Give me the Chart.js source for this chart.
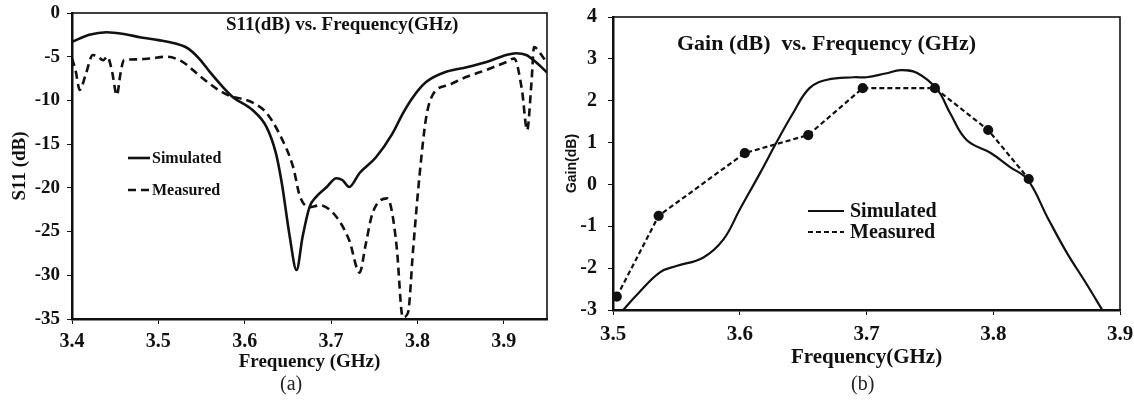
<!DOCTYPE html>
<html>
<head>
<meta charset="utf-8">
<script src="https://cdn.jsdelivr.net/npm/chart.js@4.4.1/dist/chart.umd.min.js"></script>
<style>
  body { margin: 0; background: #fff; }
  #wrap { position: relative; width: 1134px; height: 405px; overflow: hidden; }
  canvas { position: absolute; top: 0; }
  #c1 { left: 0; }
  #c2 { left: 560px; }
  .cap { position: absolute; top: 372px; font: 20px "Liberation Serif", serif; color: #222; }
</style>
</head>
<body>
<div id="wrap">
  <canvas id="c1" width="560" height="405"></canvas>
  <canvas id="c2" width="574" height="405"></canvas>
  <div class="cap" style="left:280px">(a)</div>
  <div class="cap" style="left:851px">(b)</div>
</div>
<script>
// (a) S11 vs frequency
const s11Ticks = [3.4, 3.5, 3.6, 3.7, 3.8, 3.9];
const s11YTicks = [0, -5, -10, -15, -20, -25, -30, -35];
const s11SimFreq = [3.400, 3.420, 3.440, 3.460, 3.480, 3.500, 3.520, 3.535, 3.548, 3.560, 3.575, 3.586, 3.609, 3.625, 3.636, 3.643, 3.652, 3.660, 3.667, 3.675, 3.683, 3.695, 3.706, 3.713, 3.721, 3.733, 3.752, 3.771, 3.783, 3.795, 3.810, 3.834, 3.857, 3.880, 3.903, 3.914, 3.926, 3.937, 3.950];
const s11Sim = [-3.3, -2.5, -2.2, -2.4, -2.8, -3.1, -3.5, -4.1, -5.3, -6.8, -8.5, -9.6, -11.1, -13.0, -16.0, -19.5, -25.5, -29.4, -25.6, -22.2, -21.0, -19.9, -18.9, -19.1, -19.9, -18.3, -16.5, -13.8, -11.5, -9.6, -7.9, -6.7, -6.2, -5.6, -4.8, -4.6, -4.8, -5.6, -6.8];
const s11MeasFreq = [3.400, 3.404, 3.409, 3.416, 3.424, 3.430, 3.436, 3.441, 3.446, 3.452, 3.456, 3.460, 3.475, 3.490, 3.510, 3.528, 3.548, 3.568, 3.583, 3.600, 3.612, 3.625, 3.640, 3.656, 3.664, 3.675, 3.687, 3.706, 3.721, 3.733, 3.740, 3.748, 3.765, 3.770, 3.776, 3.783, 3.789, 3.795, 3.802, 3.810, 3.818, 3.837, 3.857, 3.880, 3.903, 3.912, 3.921, 3.927, 3.932, 3.935, 3.945, 3.950];
const s11Meas = [-5.2, -6.5, -8.8, -7.0, -4.8, -5.0, -5.4, -5.0, -6.5, -9.4, -7.0, -5.4, -5.3, -5.2, -5.0, -5.6, -7.2, -8.7, -9.5, -9.9, -10.4, -11.4, -13.8, -17.6, -21.0, -22.2, -22.0, -23.3, -26.0, -29.7, -26.5, -22.9, -21.2, -22.5, -26.8, -34.8, -34.3, -27.0, -19.0, -12.0, -9.3, -8.2, -7.3, -6.5, -5.6, -5.2, -8.8, -13.4, -8.0, -3.9, -5.0, -5.7];

// (b) Gain vs frequency
const gainTicks = [3.5, 3.6, 3.7, 3.8, 3.9];
const gainYTicks = [4, 3, 2, 1, 0, -1, -2, -3];
const gainSimFreq = [3.505, 3.520, 3.537, 3.550, 3.571, 3.587, 3.600, 3.616, 3.630, 3.642, 3.655, 3.669, 3.690, 3.700, 3.715, 3.727, 3.740, 3.756, 3.766, 3.779, 3.798, 3.813, 3.827, 3.843, 3.858, 3.873, 3.888];
const gainSim = [-3.1, -2.6, -2.1, -1.95, -1.75, -1.32, -0.6, 0.27, 1.06, 1.7, 2.3, 2.5, 2.56, 2.56, 2.65, 2.73, 2.66, 2.26, 1.7, 1.06, 0.75, 0.42, 0.12, -0.8, -1.63, -2.35, -3.1];
const gainMeasFreq = [3.503, 3.536, 3.604, 3.654, 3.697, 3.754, 3.796, 3.828];
const gainMeas = [-2.68, -0.75, 0.75, 1.18, 2.3, 2.3, 1.3, 0.13];

const serif = "'Liberation Serif', 'Times New Roman', serif";
const ink = "#111";

const pairs = (xs, ys) => xs.map((x, i) => ({ x, y: ys[i] }));

// frame, title and legend drawn inside the plot area
const panelDecor = {
  id: "panelDecor",
  afterDraw(chart, args, opts) {
    const { ctx, chartArea: a } = chart;
    ctx.save();
    ctx.strokeStyle = ink;
    ctx.lineWidth = 1.6;
    ctx.strokeRect(a.left, a.top, a.right - a.left, a.bottom - a.top);

    ctx.fillStyle = ink;
    ctx.font = `bold ${opts.titleSize}px ${serif}`;
    ctx.textBaseline = "middle";
    ctx.textAlign = "left";
    ctx.fillText(opts.title, a.left + opts.titleX, a.top + opts.titleY);

    ctx.font = `bold ${opts.legendSize}px ${serif}`;
    chart.data.datasets.forEach((ds, i) => {
      const y = a.top + opts.legendY + i * opts.legendRow;
      const x = a.left + opts.legendX;
      ctx.beginPath();
      ctx.setLineDash(ds.borderDash || []);
      ctx.lineWidth = ds.borderWidth;
      ctx.moveTo(x, y);
      ctx.lineTo(x + opts.legendLine, y);
      ctx.stroke();
      ctx.setLineDash([]);
      ctx.fillText(ds.label, x + opts.legendLine + opts.legendGap, y + 1);
    });
    ctx.restore();
  }
};

function axis(ticks, min, max, title, cfg) {
  return {
    type: "linear",
    min, max,
    afterBuildTicks: (s) => { s.ticks = ticks.map((v) => ({ value: v })); },
    afterFit: (s) => {
      if (cfg.w) s.width = cfg.w;
      if (cfg.h) s.height = cfg.h;
      // keep the plot box exactly where the layout padding puts it
      s.paddingTop = s.paddingBottom = s.paddingLeft = s.paddingRight = 0;
    },
    border: { display: true, color: ink, width: 2.5 },
    grid: { drawOnChartArea: false, drawTicks: true, tickLength: 5, color: ink },
    ticks: {
      color: ink, padding: cfg.pad,
      font: { family: serif, size: cfg.tickSize, weight: "bold" },
      callback: (v) => cfg.fmt(v)
    },
    title: {
      display: true, text: title, color: ink,
      font: { family: cfg.titleFamily || serif, size: cfg.titleSize, weight: "bold" },
      padding: { top: 4, bottom: 4 }
    }
  };
}

new Chart(document.getElementById("c1"), {
  type: "line",
  data: {
    datasets: [
      { label: "Simulated", data: pairs(s11SimFreq, s11Sim), borderColor: ink, borderWidth: 2.6,
        pointRadius: 0, cubicInterpolationMode: "monotone" },
      { label: "Measured", data: pairs(s11MeasFreq, s11Meas), borderColor: ink, borderWidth: 2.6,
        borderDash: [8, 5], pointRadius: 0, cubicInterpolationMode: "monotone" }
    ]
  },
  options: {
    responsive: false,
    animation: false,
    devicePixelRatio: 1,
    layout: { padding: { left: 5, top: 13, right: 13, bottom: 28 } },
    scales: {
      x: axis(s11Ticks, 3.4, 3.95, "Frequency (GHz)", { h: 58, pad: 6, tickSize: 20, titleSize: 19, fmt: (v) => v.toFixed(1) }),
      y: axis(s11YTicks, -35, 0, "S11 (dB)", { w: 67, pad: 7, tickSize: 19, titleSize: 19, fmt: (v) => String(v) })
    },
    plugins: {
      legend: { display: false },
      tooltip: { enabled: false },
      panelDecor: { title: "S11(dB) vs. Frequency(GHz)", titleSize: 19, titleX: 154, titleY: 12,
        legendSize: 16, legendX: 56, legendY: 145, legendRow: 32, legendLine: 22, legendGap: 2 }
    }
  },
  plugins: [panelDecor]
});

new Chart(document.getElementById("c2"), {
  type: "line",
  data: {
    datasets: [
      { label: "Simulated", data: pairs(gainSimFreq, gainSim), borderColor: ink, borderWidth: 2.2,
        pointRadius: 0, tension: 0.4 },
      { label: "Measured", data: pairs(gainMeasFreq, gainMeas), borderColor: ink, borderWidth: 2.2,
        borderDash: [5, 3], tension: 0, pointRadius: 4, pointBackgroundColor: ink, pointBorderColor: ink }
    ]
  },
  options: {
    responsive: false,
    animation: false,
    devicePixelRatio: 1,
    layout: { padding: { left: 0, top: 17, right: 14, bottom: 31 } },
    scales: {
      x: axis(gainTicks, 3.5, 3.9, "Frequency(GHz)", { h: 64, pad: 7, tickSize: 21, titleSize: 21, fmt: (v) => v.toFixed(1) }),
      y: axis(gainYTicks, -3, 4, "Gain(dB)", { w: 53, pad: 11, tickSize: 20, titleSize: 14,
        titleFamily: "'Liberation Sans Narrow', 'Liberation Sans', Arial, sans-serif", fmt: (v) => String(v) })
    },
    plugins: {
      legend: { display: false },
      tooltip: { enabled: false },
      panelDecor: { title: "Gain (dB)  vs. Frequency (GHz)", titleSize: 22, titleX: 64, titleY: 27,
        legendSize: 20, legendX: 195, legendY: 194, legendRow: 21, legendLine: 36, legendGap: 6 }
    }
  },
  plugins: [panelDecor]
});
</script>
</body>
</html>
